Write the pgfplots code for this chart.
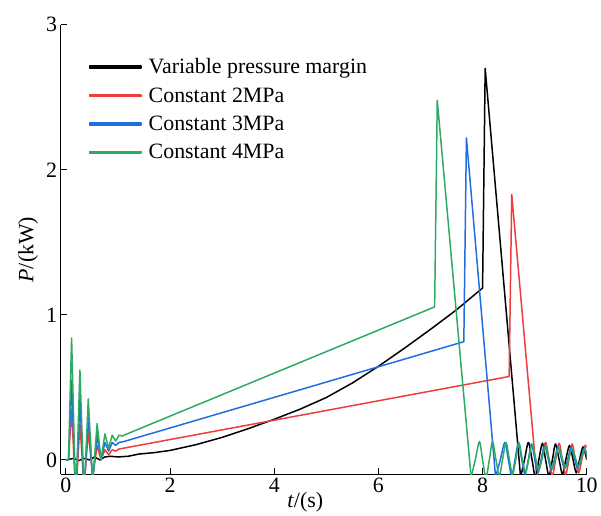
\documentclass[border=0pt]{standalone}
\usepackage{fontspec}
\setmainfont{Liberation Serif}
\usepackage{pgfplots}
\pgfplotsset{compat=1.18}
\definecolor{cred}{RGB}{240,60,60}
\definecolor{cblue}{RGB}{30,110,225}
\definecolor{cgreen}{RGB}{45,170,100}
\begin{document}
\begin{tikzpicture}[font=\fontsize{22}{26}\selectfont]
\begin{axis}[
 name=ax,
 scale only axis, width=529pt, height=452pt,
 xmin=-0.1, xmax=10, ymin=-0.1, ymax=3,
 axis x line*=bottom, axis y line*=left,
 axis line style={-, line width=1pt},
 xtick={0,2,4,6,8,10}, ytick={0,1,2,3},
 tick align=inside, major tick length=6pt,
 tick style={line width=1pt, black},
 /pgf/number format/assume math mode=true,
 ticklabel style={font=\fontsize{22}{26}\selectfont},
 xlabel={\textit{t}/(s)}, ylabel={\textit{P}/(kW)},
 xlabel style={at={(axis description cs:0.465,-0.062)},anchor=center},
 ylabel style={at={(axis description cs:-0.062,0.5)},anchor=center},
 legend style={at={(axis description cs:0.047,0.934)},anchor=north west,draw=none,fill=none,
   font=\fontsize{22}{26}\selectfont, row sep=8.4pt,
   /tikz/every odd column/.append style={column sep=5pt}},
 legend cell align=left,
 legend image code/.code={\fill[#1] (0pt,-0.8pt) rectangle (52pt,0.8pt);},
 every axis plot/.append style={line width=1.5pt, line join=round},
]
% ---- Variable pressure margin (black)
\addplot[black] coordinates {
(0,0) (0.15,0.01) (0.25,-0.005) (0.35,0.01) (0.45,0.0) (0.55,0.02) (0.65,0.0) (0.75,0.02)
(0.85,0.025) (1.0,0.02) (1.2,0.025) (1.4,0.04) (1.7,0.05) (2,0.065) (2.5,0.105) (3,0.155)
(3.5,0.215) (4,0.28) (4.5,0.35) (5,0.43) (5.5,0.53) (6,0.645) (6.5,0.77) (7,0.90)
(7.5,1.035) (8.0,1.185) (8.05,2.70) (8.73,-0.12)};
\addlegendentry{Variable pressure margin}
% ---- Constant 2MPa (red)
\addplot[cred] coordinates {
(0,0) (0.05,0) (0.11,0.35) (0.19,-0.25) (0.27,0.25) (0.35,-0.2) (0.43,0.2) (0.515,-0.12)
(0.60,0.10) (0.675,0.0) (0.75,0.07) (0.82,0.035) (0.89,0.07) (0.955,0.06) (1.02,0.075)
(1.1,0.08) (8.51,0.575) (8.56,1.83) (9.04,-0.12)};
\addlegendentry{Constant 2MPa}
% ---- Constant 3MPa (blue)
\addplot[cblue] coordinates {
(0,0) (0.05,0) (0.11,0.55) (0.19,-0.28) (0.27,0.42) (0.35,-0.22) (0.43,0.3) (0.515,-0.14)
(0.60,0.17) (0.675,0.0) (0.75,0.12) (0.82,0.06) (0.89,0.12) (0.955,0.10) (1.02,0.12)
(1.1,0.125) (7.64,0.815) (7.69,2.22) (8.25,-0.12)};
\addlegendentry{Constant 3MPa}
% ---- Constant 4MPa (green)
\addplot[cgreen] coordinates {
(0,0) (0.05,0) (0.11,0.84) (0.19,-0.3) (0.27,0.62) (0.35,-0.25) (0.43,0.42) (0.515,-0.15)
(0.60,0.25) (0.675,0.0) (0.75,0.18) (0.82,0.08) (0.89,0.17) (0.955,0.13) (1.02,0.17)
(1.08,0.165) (7.08,1.055) (7.13,2.48) (7.78,-0.12)};
\addlegendentry{Constant 4MPa}
% ---- tails (oscillations)
\addplot[black, smooth, forget plot] coordinates {
(8.73,-0.12) (8.805,0.0) (8.88,0.12) (8.95,0.0) (9.015,-0.12) (9.08,0.0) (9.15,0.115)
(9.21,0.0) (9.275,-0.11) (9.34,0.0) (9.40,0.11) (9.47,0.0) (9.535,-0.10) (9.60,0.005)
(9.67,0.10) (9.735,0.005) (9.80,-0.09) (9.865,0.005) (9.93,0.09) (10.0,0.0)};
\addplot[cred, smooth, forget plot] coordinates {
(9.04,-0.12) (9.125,0.0) (9.21,0.12) (9.275,0.0) (9.34,-0.11) (9.405,0.005) (9.47,0.115)
(9.53,0.005) (9.595,-0.10) (9.66,0.005) (9.72,0.11) (9.78,0.005) (9.845,-0.09) (9.91,0.01)
(9.97,0.10) (10.0,0.08)};
\addplot[cblue, smooth, forget plot] coordinates {
(8.25,-0.12) (8.34,0.0) (8.43,0.12) (8.495,0.0) (8.56,-0.11) (8.625,0.005) (8.69,0.12)
(8.75,0.005) (8.815,-0.10) (8.88,0.005) (8.94,0.11) (9.00,0.01) (9.065,-0.085) (9.13,0.008)
(9.19,0.10) (9.255,0.015) (9.32,-0.07) (9.385,0.01) (9.45,0.09) (9.51,0.015) (9.575,-0.06)
(9.64,0.013) (9.70,0.085) (9.76,0.015) (9.825,-0.055) (9.89,0.013) (9.95,0.08) (10.0,0.03)};
\addplot[cgreen, smooth, forget plot] coordinates {
(7.78,-0.12) (7.86,0.0) (7.94,0.125) (8.00,0.0) (8.065,-0.12) (8.13,0.0) (8.19,0.125)
(8.255,0.005) (8.32,-0.11) (8.385,0.005) (8.45,0.12) (8.51,0.01) (8.575,-0.10) (8.64,0.008)
(8.70,0.115) (8.76,0.01) (8.825,-0.085) (8.89,0.01) (8.95,0.105) (9.015,0.015) (9.08,-0.07)
(9.145,0.013) (9.21,0.095) (9.27,0.015) (9.335,-0.06) (9.40,0.013) (9.46,0.085) (9.525,0.015)
(9.59,-0.055) (9.655,0.013) (9.72,0.08) (9.78,0.015) (9.84,-0.05) (9.90,0.013) (9.96,0.075)
(10.0,0.04)};
\end{axis}
\path ([xshift=-61pt,yshift=-39pt]ax.south west) ([xshift=10pt,yshift=25pt]ax.north east);
\end{tikzpicture}
\end{document}
